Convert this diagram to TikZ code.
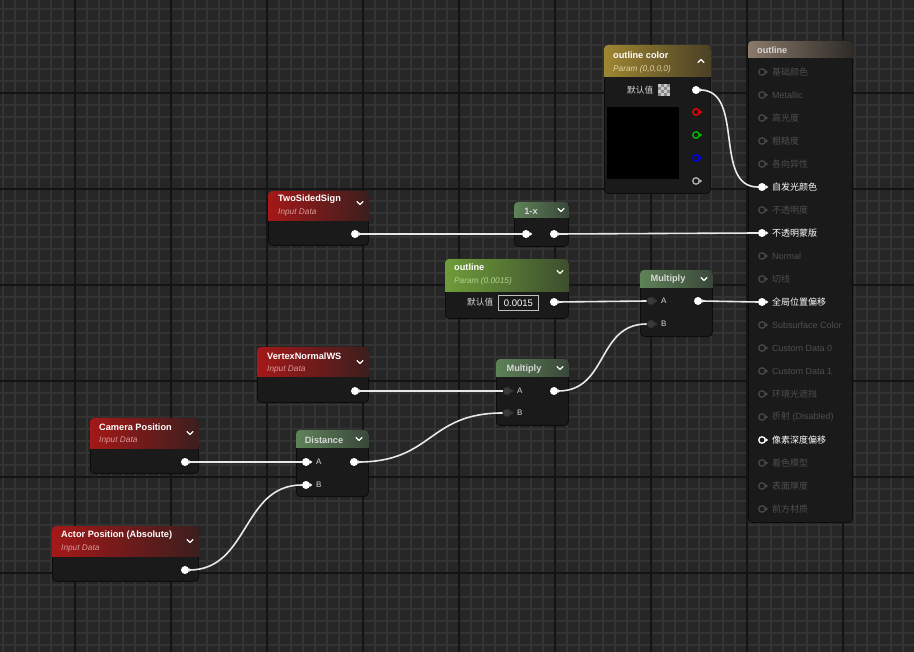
\documentclass[tikz,border=0pt]{standalone}
\usepackage{fontspec}
\setmainfont{Liberation Sans}
\newfontfamily\cjk{Noto Sans CJK SC}
\definecolor{bg}{HTML}{262626}
\definecolor{minorc}{HTML}{333333}
\definecolor{majorc}{HTML}{141414}
\definecolor{nodebody}{HTML}{1A1A1A}
\definecolor{nodeedge}{HTML}{0C0C0C}
\definecolor{wirec}{HTML}{E8E8E8}
\definecolor{pindark}{HTML}{3A3A3A}
\definecolor{pinedge}{HTML}{2A2A2A}
\definecolor{dimpin}{HTML}{474747}
\definecolor{dimtxt}{HTML}{4E4E4E}
\definecolor{redL}{HTML}{A41818}
\definecolor{redR}{HTML}{3C1E1E}
\definecolor{grnL}{HTML}{5E8258}
\definecolor{grnR}{HTML}{3A473A}
\definecolor{brgL}{HTML}{6E9C3A}
\definecolor{brgR}{HTML}{3D4E2E}
\definecolor{gldL}{HTML}{9E8632}
\definecolor{gldR}{HTML}{4A4024}
\definecolor{resL}{HTML}{8A7A6A}
\definecolor{resR}{HTML}{2E2B28}
\definecolor{redsub}{HTML}{D89A9A}
\definecolor{grnsub}{HTML}{B4D48E}
\definecolor{gldsub}{HTML}{DCD3A4}
\definecolor{lbltxt}{HTML}{D8D8D8}
\tikzset{
  body/.style={draw=nodeedge, fill=nodebody, rounded corners=4pt, inner sep=0, anchor=north west, line width=0.8pt},
  ttl/.style={anchor=west, inner sep=0, text=white, font=\bfseries\fontsize{9.2}{10}\selectfont},
  ttlc/.style={anchor=center, inner sep=0, text=lbltxt, font=\bfseries\fontsize{9.2}{10}\selectfont},
  subt/.style={anchor=west, inner sep=0, font=\itshape\fontsize{8.3}{9}\selectfont},
  lbl/.style={anchor=west, inner sep=0, font=\fontsize{9}{10}\selectfont},
  pinw/.style={circle, fill=white, minimum size=8pt, inner sep=0},
  pino/.style={circle, draw=#1, line width=1.3pt, minimum size=6.5pt, inner sep=0},
  pind/.style={circle, fill=pindark, draw=pinedge, line width=0.6pt, minimum size=8pt, inner sep=0},
  rpind/.style={pino=dimpin},
  rpinb/.style={pinw},
  rpino/.style={pino=white},
  rtxtd/.style={text=dimtxt},
  rtxtb/.style={text=white},
  rtxto/.style={text=white},
  nubd/.style={fill=dimpin},
  nubb/.style={fill=white},
  nubo/.style={fill=white},
  wire/.style={draw=wirec, line width=1.6pt},
  chev/.style={draw=white, line width=1.2pt, line cap=round, line join=round},
}
\newcommand\hdr[4]{\begin{scope}\clip[rounded corners=4pt] (#1.north west) rectangle (#1.south east);
  \shade[left color=#3, right color=#4] (#1.north west) rectangle ([yshift=-#2pt]#1.north east);\end{scope}}
\newcommand\chevd[2]{\draw[chev] (#1-3,#2-1.5) -- (#1,#2+1.5) -- (#1+3,#2-1.5);}
\newcommand\chevu[2]{\draw[chev] (#1-3,#2+1.5) -- (#1,#2-1.5) -- (#1+3,#2+1.5);}
\newcommand\nub[2]{\fill[#2] ([yshift=2pt,xshift=-0.5pt]#1.east) -- ([xshift=2.2pt]#1.east) -- ([yshift=-2pt,xshift=-0.5pt]#1.east) -- cycle;}
\begin{document}
\begin{tikzpicture}[x=1pt, y=-1pt]
\useasboundingbox (0,0) rectangle (914,652);
% background grid
\fill[bg] (0,0) rectangle (914,652);
\foreach \x in {3,15,...,911} \draw[minorc, line width=1.6pt] (\x,0) -- (\x,652);
\foreach \y in {9,21,...,645} \draw[minorc, line width=1.6pt] (0,\y) -- (914,\y);
\foreach \x in {75,171,...,843} \draw[majorc, line width=2pt] (\x,0) -- (\x,652);
\foreach \y in {93,189,...,573} \draw[majorc, line width=2pt] (0,\y) -- (914,\y);

% ---------- node bodies ----------
\node[body, minimum width=106pt, minimum height=148pt] (oc) at (604,45) {};
\hdr{oc}{32}{gldL}{gldR}
\node[body, minimum width=104pt, minimum height=481pt] (res) at (748,41) {};
\hdr{res}{17}{resL}{resR}
\node[body, minimum width=100pt, minimum height=54pt] (tss) at (268,191) {};
\hdr{tss}{30}{redL}{redR}
\node[body, minimum width=54pt, minimum height=44pt] (omx) at (514,202) {};
\hdr{omx}{16}{grnL}{grnR}
\node[body, minimum width=123pt, minimum height=59pt] (op) at (445,259) {};
\hdr{op}{33}{brgL}{brgR}
\node[body, minimum width=72pt, minimum height=66pt] (mt) at (640,270) {};
\hdr{mt}{18}{grnL}{grnR}
\node[body, minimum width=111pt, minimum height=55pt] (vn) at (257,347) {};
\hdr{vn}{30}{redL}{redR}
\node[body, minimum width=72pt, minimum height=66pt] (mb) at (496,359) {};
\hdr{mb}{18}{grnL}{grnR}
\node[body, minimum width=108pt, minimum height=55pt] (cam) at (90,418) {};
\hdr{cam}{31}{redL}{redR}
\node[body, minimum width=72pt, minimum height=66pt] (dist) at (296,430) {};
\hdr{dist}{18}{grnL}{grnR}
\node[body, minimum width=146pt, minimum height=55pt] (act) at (52,526) {};
\hdr{act}{30}{redL}{redR}

% ---------- titles ----------
\node[ttl] (octt) at (613,55) {outline color};
\node[subt, text=gldsub] (ocst) at (613,69) {Param (0,0,0,0)};
\chevu{701}{61}
\node[ttl, text=lbltxt] (rest) at (757,50) {outline};
\node[ttl] (tsst) at (278,199) {TwoSidedSign};
\node[subt, text=redsub] (tssst) at (278,213) {Input Data};
\chevd{360}{203}
\node[ttlc] (omxt) at (531,211) {1-x};
\chevd{561}{210}
\node[ttl] (opt) at (454,267) {outline};
\node[subt, text=grnsub] (opst) at (454,281) {Param (0.0015)};
\chevd{560}{272}
\node[ttlc] (mtt) at (668,279) {Multiply};
\chevd{704}{279}
\node[ttl] (vnt) at (267,356) {VertexNormalWS};
\node[subt, text=redsub] (vnst) at (267,370) {Input Data};
\chevd{360}{362}
\node[ttlc] (mbt) at (524,369) {Multiply};
\chevd{560}{368}
\node[ttl] (camt) at (99,427) {Camera Position};
\node[subt, text=redsub] (camst) at (99,441) {Input Data};
\chevd{190}{433}
\node[ttlc] (distt) at (324,440) {Distance};
\chevd{359}{439}
\node[ttl] (actt) at (61,535) {Actor Position (Absolute)};
\node[subt, text=redsub] (actst) at (61,549) {Input Data};
\chevd{190}{541}

% ---------- outline color body ----------
\node[lbl, text=lbltxt, font=\cjk\fontsize{8.7}{10}\selectfont] (ocdef) at (627,90) {默认值};
\foreach \i in {0,...,3} \foreach \j in {0,...,3} {
  \pgfmathparse{mod(\i+\j,2)==0 ? "c8c8c8" : "8a8a8a"}
  \definecolor{ck}{HTML}{\pgfmathresult}
  \fill[ck] (658+3*\i,84+3*\j) rectangle ++(3,3);
}
\node[fill=black, minimum width=72pt, minimum height=72pt, inner sep=0, anchor=north west] (ocsw) at (607,107) {};

% ---------- outline param body ----------
\node[lbl, text=lbltxt, font=\cjk\fontsize{8.7}{10}\selectfont] (opdef) at (467,302) {默认值};
\node[draw=lightgray, line width=0.8pt, text=white, inner sep=0, minimum width=40pt, minimum height=15pt, anchor=west, font=\fontsize{9.5}{10}\selectfont] (opval) at (498,303) {0.0015};

% ---------- pins ----------
\node[pinw] (ocout) at (696,90) {};
\node[pino=red] (ocr) at (696,112) {};
\node[pino={green!75!black}] (ocg) at (696,135) {};
\node[pino=blue] (ocb) at (696,158) {};
\node[pino={gray!60}] (oca) at (696,181) {};
\node[pinw] (tssout) at (355,234) {};
\node[pinw] (omxin) at (526,234) {};
\node[pinw] (omxout) at (554,234) {};
\node[pinw] (opout) at (554,302) {};
\node[pind] (mta) at (651,301) {};
\node[pind] (mtb) at (651,324) {};
\node[pinw] (mtout) at (698,301) {};
\node[pinw] (vnout) at (355,391) {};
\node[pind] (mba) at (507,391) {};
\node[pind] (mbb) at (507,413) {};
\node[pinw] (mbout) at (554,391) {};
\node[pinw] (camout) at (185,462) {};
\node[pinw] (dista) at (306,462) {};
\node[pinw] (distb) at (306,485) {};
\node[pinw] (distout) at (354,462) {};
\node[pinw] (actout) at (185,570) {};
\foreach \p/\c in {ocout/white, ocr/red, ocg/{green!75!black}, ocb/blue, oca/{gray!60}, tssout/white, omxin/white, omxout/white, opout/white, mta/pindark, mtb/pindark, mtout/white, vnout/white, mba/pindark, mbb/pindark, mbout/white, camout/white, dista/white, distb/white, distout/white, actout/white}
  \nub{\p}{\c};

% pin labels
\node[lbl, text=lbltxt, font=\fontsize{8}{9}\selectfont] (mtal) at (661,301) {A};
\node[lbl, text=lbltxt, font=\fontsize{8}{9}\selectfont] (mtbl) at (661,324) {B};
\node[lbl, text=lbltxt, font=\fontsize{8}{9}\selectfont] (mbal) at (517,391) {A};
\node[lbl, text=lbltxt, font=\fontsize{8}{9}\selectfont] (mbbl) at (517,413) {B};
\node[lbl, text=lbltxt, font=\fontsize{8}{9}\selectfont] (distal) at (316,462) {A};
\node[lbl, text=lbltxt, font=\fontsize{8}{9}\selectfont] (distbl) at (316,485) {B};

% ---------- result node rows ----------
\foreach \t/\s [count=\i] in {{\cjk 基础颜色}/d, Metallic/d, {\cjk 高光度}/d, {\cjk 粗糙度}/d, {\cjk 各向异性}/d, {\cjk 自发光颜色}/b, {\cjk 不透明度}/d, {\cjk 不透明蒙版}/b, Normal/d, {\cjk 切线}/d, {\cjk 全局位置偏移}/b, Subsurface Color/d, Custom Data 0/d, Custom Data 1/d, {\cjk 环境光遮挡}/d, {{\cjk 折射} (Disabled)}/d, {\cjk 像素深度偏移}/o, {\cjk 着色模型}/d, {\cjk 表面厚度}/d, {\cjk 前方材质}/d} {
  \node[rpin\s] (r\i) at (762,{72+23*(\i-1)}) {};
  \nub{r\i}{nub\s}
  \node[lbl, rtxt\s] (rl\i) at (772,{72+23*(\i-1)}) {\t};
}

% ---------- wires ----------
\draw[wire] (ocout.east) .. controls +(45,0) and +(-45,0) .. (r6.west);
\draw[wire] (tssout.east) -- (omxin.west);
\draw[wire] (omxout.east) -- (r8.west);
\draw[wire] (opout.east) -- (mta.west);
\draw[wire] (mtout.east) -- (r11.west);
\draw[wire] (mbout.east) .. controls +(50,0) and +(-50,0) .. (mtb.west);
\draw[wire] (vnout.east) -- (mba.west);
\draw[wire] (distout.east) .. controls +(75,0) and +(-75,0) .. (mbb.west);
\draw[wire] (camout.east) -- (dista.west);
\draw[wire] (actout.east) .. controls +(60,0) and +(-60,0) .. (distb.west);
\end{tikzpicture}
\end{document}
